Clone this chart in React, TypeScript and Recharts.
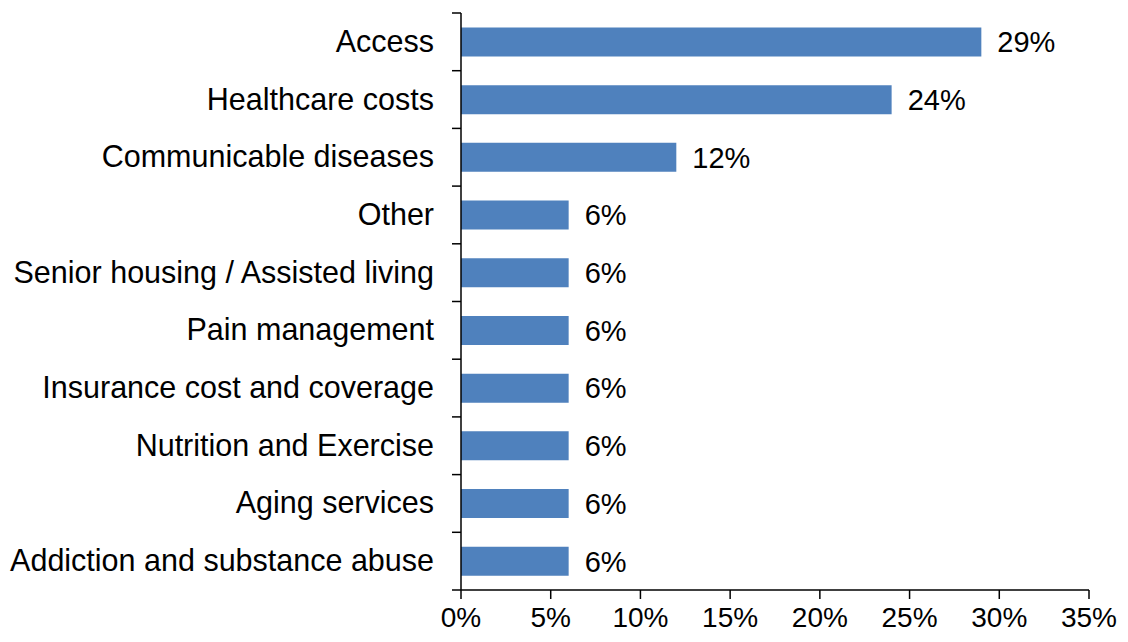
import React from 'react';
import { BarChart, Bar, XAxis, YAxis, LabelList } from 'recharts';

const categories = [
  'Access',
  'Healthcare costs',
  'Communicable diseases',
  'Other',
  'Senior housing / Assisted living',
  'Pain management',
  'Insurance cost and coverage',
  'Nutrition and Exercise',
  'Aging services',
  'Addiction and substance abuse'
];
const shares = [29, 24, 12, 6, 6, 6, 6, 6, 6, 6];
const xTicks = [0, 5, 10, 15, 20, 25, 30, 35];

const data = categories.map((name, i) => ({ name, value: shares[i] }));

const W = 1120;
const H = 634;
const MARGIN = { top: 5, right: 39, bottom: 0, left: 0 };
const X_AXIS_H = 52;
const Y_AXIS_W = 453;
const FONT = '"Liberation Sans", Arial, sans-serif';

const band = (H - MARGIN.top - MARGIN.bottom - X_AXIS_H) / categories.length;

const CategoryTick = (props: any) => {
  const { x, y, payload, index } = props;
  const axisX = x + 27;
  return <g>
      <line x1={axisX - 9} x2={axisX} y1={y - band / 2} y2={y - band / 2} stroke="#000" strokeWidth={1.5} />
      {index === categories.length - 1 && <line x1={axisX - 9} x2={axisX} y1={y + band / 2} y2={y + band / 2} stroke="#000" strokeWidth={1.5} />}
      <text x={x} y={y} dy={10} textAnchor="end" fill="#000" fontSize={30.5} fontFamily={FONT}>
        {payload.value}
      </text>
    </g>;
};

const App: React.FC = () => {
  return <div style={{ width: W, height: H, background: '#fff' }}>
      <BarChart width={W} height={H} data={data} layout="vertical" margin={MARGIN} barCategoryGap="25%">
        <XAxis type="number" domain={[0, 35]} ticks={xTicks} tickFormatter={(v: number) => `${v}%`} height={X_AXIS_H} tickSize={9} tickMargin={8} stroke="#000" axisLine={{ stroke: '#000', strokeWidth: 1.5 }} tickLine={{ stroke: '#000', strokeWidth: 1.5 }} tick={{ fill: '#000', fontSize: 28, fontFamily: FONT }} interval={0} />
        <YAxis type="category" dataKey="name" width={Y_AXIS_W} tickSize={9} tickMargin={18} tickLine={false} axisLine={{ stroke: '#000', strokeWidth: 1.5 }} tick={<CategoryTick />} interval={0} />
        <Bar dataKey="value" fill="#4F81BD" isAnimationActive={false}>
          <LabelList dataKey="value" position="right" offset={16} formatter={(v: number) => `${v}%`} fill="#000" fontSize={29} fontFamily={FONT} />
        </Bar>
      </BarChart>
    </div>;
};

export default App;
